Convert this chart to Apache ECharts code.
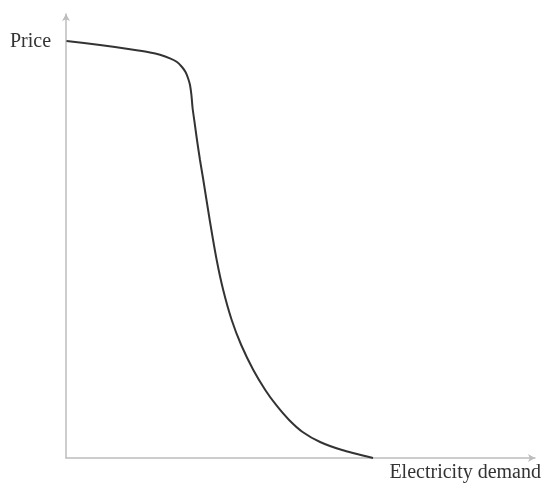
<!DOCTYPE html>
<html>
<head>
<meta charset="utf-8">
<script src="https://cdn.jsdelivr.net/npm/echarts@6/dist/echarts.min.js"></script>
<style>html,body{margin:0;padding:0;background:#fff}#c{width:543px;height:483px}</style>
</head>
<body>
<div id="c"></div>
<script>
var demand = [0.11, 7.25, 13.65, 17.91, 20.04, 22.17, 23.67, 24.73, 25.48, 26.01, 26.44, 26.74, 26.99, 27.40, 27.93, 28.57, 29.28, 30.64, 32.13, 33.52, 35.33, 37.36, 39.94, 42.49, 44.80, 47.57, 50.45, 54.18, 58.87, 65.46];
var price  = [93.92, 93.02, 92.05, 91.33, 90.81, 90.02, 89.19, 88.06, 86.94, 85.59, 84.01, 81.76, 78.83, 75.68, 71.62, 67.12, 62.61, 53.60, 44.59, 37.84, 31.08, 25.45, 19.82, 15.32, 11.94, 8.56, 5.86, 3.60, 1.80, 0.0];
var yLabel = 'Price';
var xLabel = 'Electricity demand';

var pts = demand.map(function (d, i) { return [d, price[i]]; });
var chart = echarts.init(document.getElementById('c'));
var axisStyle = { color: '#bdbdbd', width: 1.5 };
chart.setOption({
  animation: false,
  grid: { left: 66, right: 8, top: 14, bottom: 25 },
  xAxis: {
    type: 'value', min: 0, max: 100,
    axisLine: { show: true, lineStyle: axisStyle, symbol: ['none', 'arrow'], symbolSize: [6, 7] },
    axisTick: { show: false }, axisLabel: { show: false }, splitLine: { show: false }
  },
  yAxis: {
    type: 'value', min: 0, max: 100,
    axisLine: { show: true, lineStyle: axisStyle, symbol: ['none', 'arrow'], symbolSize: [6, 7] },
    axisTick: { show: false }, axisLabel: { show: false }, splitLine: { show: false }
  },
  series: [{
    type: 'line', data: pts, smooth: 0.2, showSymbol: false,
    lineStyle: { color: '#333', width: 2 }
  }],
  graphic: [
    { type: 'text', left: 10, top: 32, style: { text: yLabel, font: '20px "Liberation Serif"', fill: '#333' } },
    { type: 'text', right: 2, top: 463, style: { text: xLabel, font: '20px "Liberation Serif"', fill: '#333' } }
  ]
});
</script>
</body>
</html>
